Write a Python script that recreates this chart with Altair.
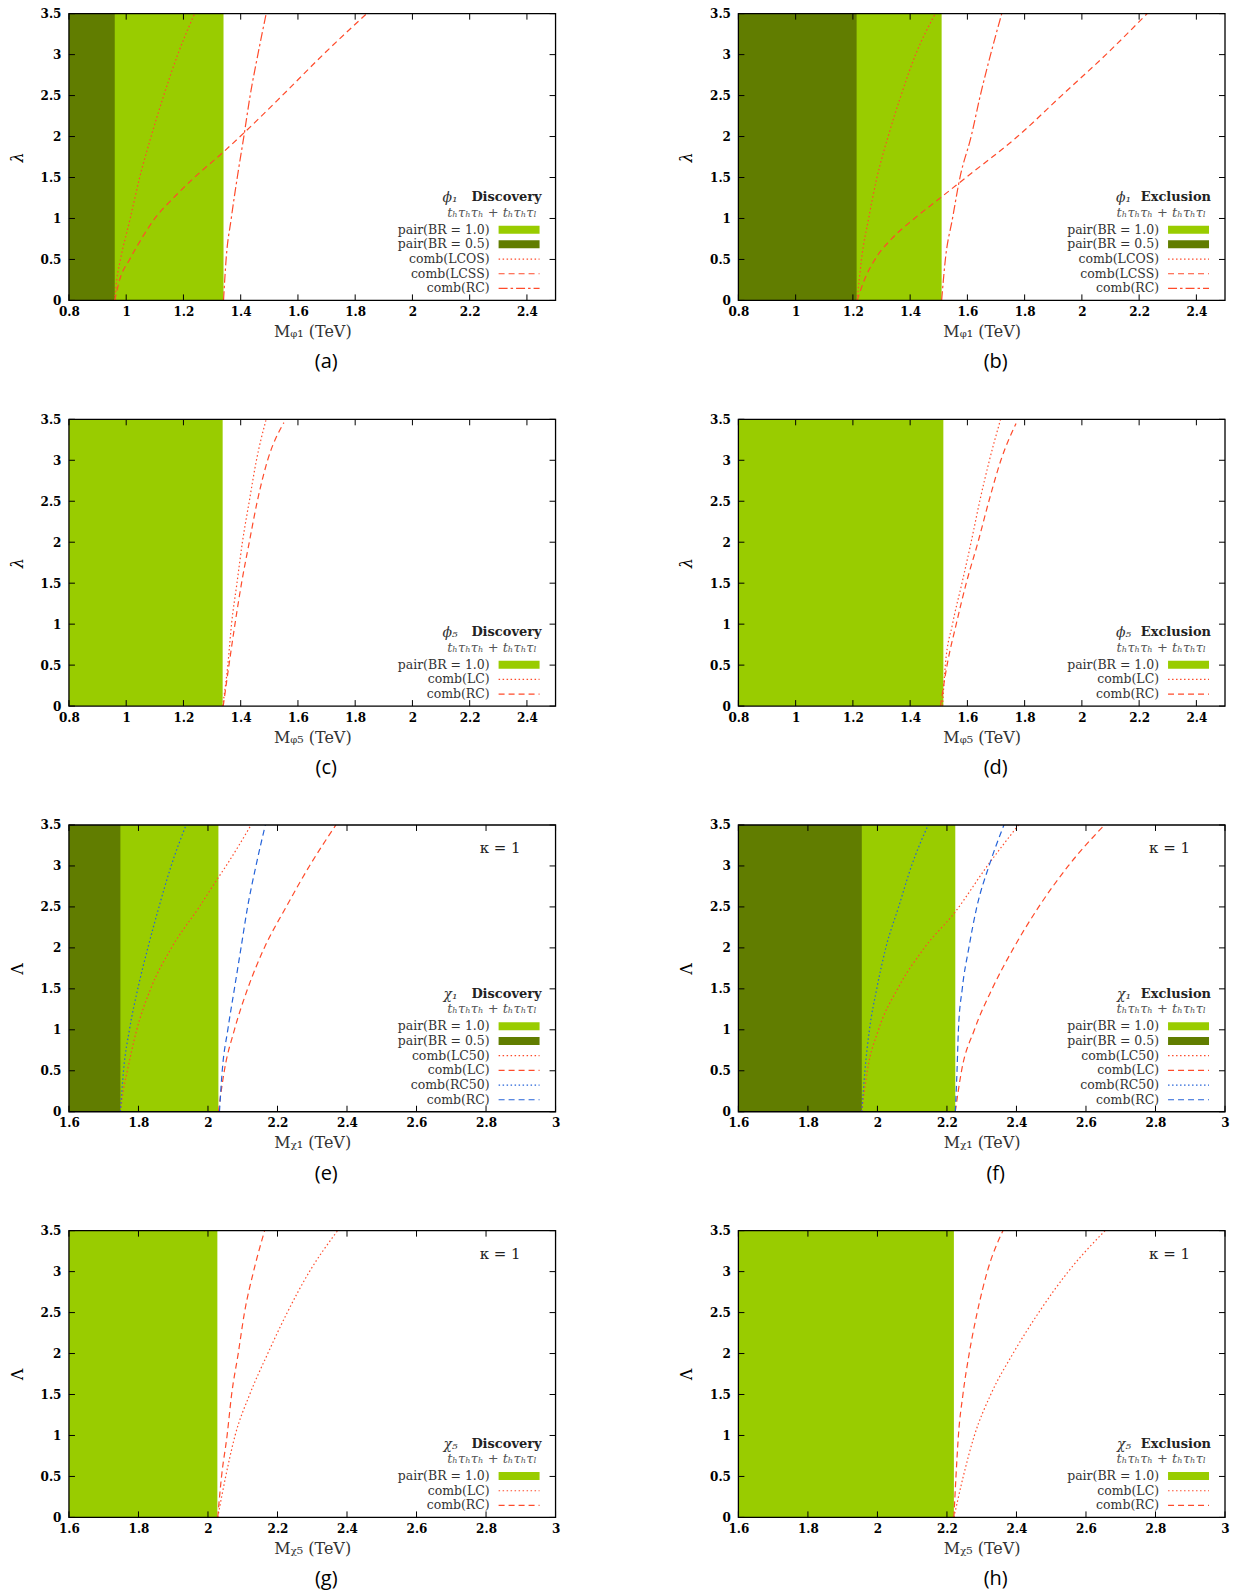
import altair as alt
import pandas as pd

# ------------------------------------------------------------------ data
LAM = [0, 0.5, 1.0, 1.5, 2.0, 2.5, 3.0, 3.5]
LAM_Q = [0, 0.25, 0.5, 1.0, 1.5, 2.0, 2.5, 3.0, 3.5]

PHI_X_DOMAIN = [0.8, 2.5]
PHI_X_TICKS = [0.8, 1.0, 1.2, 1.4, 1.6, 1.8, 2.0, 2.2, 2.4]
CHI_X_DOMAIN = [1.6, 3.0]
CHI_X_TICKS = [1.6, 1.8, 2.0, 2.2, 2.4, 2.6, 2.8, 3.0]
Y_DOMAIN = [0, 3.5]
Y_TICKS = [0, 0.5, 1, 1.5, 2, 2.5, 3, 3.5]

# (a) phi1 discovery
A_PAIR10, A_PAIR05 = 1.34, 0.96
A_LCOS_M = [0.960, 0.967, 0.980, 1.014, 1.047, 1.087, 1.131, 1.180, 1.239]
A_LCSS_L = [0, 0.25, 0.5, 0.75, 1.0, 1.25, 1.5, 1.8, 2.0, 2.5, 3.0, 3.5]
A_LCSS_M = [0.960, 0.977, 1.012, 1.053, 1.100, 1.165, 1.238, 1.336, 1.398, 1.545, 1.688, 1.840]
A_RC_M = [1.340, 1.349, 1.367, 1.388, 1.411, 1.433, 1.460, 1.489]

# (b) phi1 exclusion
B_PAIR10, B_PAIR05 = 1.51, 1.213
B_LCOS_M = [1.215, 1.222, 1.230, 1.255, 1.284, 1.323, 1.368, 1.419, 1.488]
B_LCSS_L = [0, 0.25, 0.5, 0.75, 1.0, 1.25, 1.5, 2.0, 2.5, 3.0, 3.5]
B_LCSS_M = [1.215, 1.240, 1.277, 1.335, 1.415, 1.505, 1.595, 1.775, 1.929, 2.084, 2.228]
B_RC_M = [1.510, 1.523, 1.548, 1.574, 1.613, 1.645, 1.681, 1.720]

# (c) phi5 discovery
C_PAIR10 = 1.337
C_LC_M = [1.337, 1.355, 1.368, 1.387, 1.406, 1.430, 1.455, 1.489]
C_RC_L = [0, 0.5, 1.0, 1.5, 2.0, 2.5, 3.0, 3.46]
C_RC_M = [1.339, 1.359, 1.380, 1.403, 1.430, 1.458, 1.494, 1.551]

# (d) phi5 exclusion
D_PAIR10 = 1.516
D_LC_M = [1.513, 1.523, 1.548, 1.581, 1.613, 1.643, 1.677, 1.716]
D_RC_L = [0, 0.5, 1.0, 1.5, 2.0, 2.5, 3.0, 3.45]
D_RC_M = [1.506, 1.529, 1.561, 1.596, 1.637, 1.675, 1.717, 1.770]

# (e) chi1 discovery
E_PAIR10, E_PAIR05 = 2.030, 1.748
E_LC50_L = [0, 0.25, 0.5, 1.0, 1.5, 2.0, 2.5, 2.86, 3.0, 3.5]
E_LC50_M = [1.748, 1.756, 1.768, 1.795, 1.835, 1.895, 1.975, 2.030, 2.052, 2.124]
E_LC_M = [2.030, 2.047, 2.076, 2.114, 2.162, 2.225, 2.292, 2.368]
E_RC50_M = [1.748, 1.757, 1.774, 1.798, 1.827, 1.859, 1.894, 1.937]
E_RC_M = [2.033, 2.041, 2.057, 2.076, 2.095, 2.114, 2.138, 2.165]

# (f) chi1 exclusion
F_PAIR10, F_PAIR05 = 2.224, 1.955
F_LC50_L = [0, 0.5, 1.0, 1.5, 2.0, 2.44, 3.0, 3.5]
F_LC50_M = [1.955, 1.971, 2.003, 2.058, 2.135, 2.224, 2.316, 2.406]
F_LC_M = [2.224, 2.242, 2.279, 2.330, 2.392, 2.464, 2.549, 2.653]
F_RC50_M = [1.955, 1.964, 1.977, 1.998, 2.024, 2.061, 2.098, 2.146]
F_RC_M = [2.224, 2.229, 2.233, 2.244, 2.263, 2.286, 2.321, 2.364]

# (g) chi5 discovery
G_PAIR10 = 2.027
G_LC_M = [2.028, 2.051, 2.078, 2.120, 2.172, 2.228, 2.292, 2.373]
G_RC_M = [2.028, 2.039, 2.055, 2.068, 2.087, 2.105, 2.131, 2.163]

# (h) chi5 exclusion
H_PAIR10 = 2.220
H_LC_M = [2.220, 2.247, 2.279, 2.326, 2.390, 2.464, 2.549, 2.655]
H_RC_M = [2.220, 2.226, 2.233, 2.246, 2.264, 2.287, 2.316, 2.361]

SUBTITLE = "tₕτₕτₕ + tₕτₕτₗ"

# ------------------------------------------------------------------ style
W, H = 487, 287
TL = 6
SERIF = "DejaVu Serif"
RED = "#ff4b2b"
BLUE = "#2563d9"
LIGHT = "#99cc00"
DARK = "#617d00"
DOT = [1.5, 2.5]
DASH = [6, 4]
DASHDOT = [9, 3, 2.5, 3]
WORD_W = {"Discovery": 76, "Exclusion": 72}


def build_panel(p):
    xs = alt.Scale(domain=p["xdomain"], nice=False, zero=False)
    ys = alt.Scale(domain=Y_DOMAIN, nice=False, zero=False)
    common = dict(grid=False, domain=False, ticks=False, tickSize=0, format="~g",
                  labelFont=SERIF, labelFontSize=12, labelFontWeight="bold",
                  labelColor="black", labelOverlap=False, titleFont=SERIF,
                  titleFontWeight="normal")
    xax = alt.Axis(values=p["xticks"], title=p["xtitle"], labelFlush=False,
                   labelPadding=6, titleFontSize=16, titleColor="#333",
                   titlePadding=6, **common)
    yax = alt.Axis(values=Y_TICKS, title=p["ytitle"], labelPadding=8,
                   titleFontSize=16, titleColor="black", titlePadding=15,
                   titleFontStyle=p["ystyle"], **common)
    X = lambda f: alt.X(f, scale=xs, axis=xax)
    Y = lambda f: alt.Y(f, scale=ys, axis=yax)

    layers = []
    one = pd.DataFrame({"z": [0]})
    # excluded regions from pair production
    for bound, col in p["rects"]:
        df = pd.DataFrame({"lo": [p["xdomain"][0]], "hi": [bound]})
        layers.append(alt.Chart(df).mark_rect(color=col).encode(
            x=X("lo:Q"), x2="hi:Q", y=alt.value(0), y2=alt.value(H)))
    # combined-production curves
    for mv, lv, col, dash in p["lines"]:
        df = pd.DataFrame({"m": mv, "l": lv})
        layers.append(alt.Chart(df).mark_line(
            color=col, strokeDash=dash, strokeWidth=1.2, clip=True,
            interpolate="monotone").encode(
            x=X("m:Q"), y=Y("l:Q"), order="l:Q"))
    # inward mirrored ticks
    ydf = pd.DataFrame({"t": Y_TICKS})
    xdf = pd.DataFrame({"t": p["xticks"]})
    tick = dict(color="black", strokeWidth=1)
    layers.append(alt.Chart(ydf).mark_rule(**tick).encode(
        y=Y("t:Q"), x=alt.value(0), x2=alt.value(TL)))
    layers.append(alt.Chart(ydf).mark_rule(**tick).encode(
        y=Y("t:Q"), x=alt.value(W - TL), x2=alt.value(W)))
    layers.append(alt.Chart(xdf).mark_rule(**tick).encode(
        x=X("t:Q"), y=alt.value(H - TL), y2=alt.value(H)))
    layers.append(alt.Chart(xdf).mark_rule(**tick).encode(
        x=X("t:Q"), y=alt.value(0), y2=alt.value(TL)))
    # frame
    layers.append(alt.Chart(one).mark_rect(
        fillOpacity=0, stroke="black", strokeWidth=1.3).encode(
        x=alt.value(0), x2=alt.value(W), y=alt.value(0), y2=alt.value(H)))

    # legend
    n = len(p["entries"])
    step = 14.7
    first = 275 - (n - 1) * step
    sub_y = first - 17
    title_y = sub_y - 15.5
    word = p["word"]
    layers.append(alt.Chart(pd.DataFrame({"s": [word]})).mark_text(
        align="right", baseline="middle", font=SERIF, fontSize=13,
        fontWeight="bold", color="#222").encode(
        x=alt.value(473), y=alt.value(title_y), text="s:N"))
    layers.append(alt.Chart(pd.DataFrame({"s": [p["sym"]]})).mark_text(
        align="right", baseline="middle", font=SERIF, fontSize=14,
        fontStyle="italic", color="#333").encode(
        x=alt.value(473 - WORD_W[word] - 8), y=alt.value(title_y + 1), text="s:N"))
    layers.append(alt.Chart(pd.DataFrame({"s": [SUBTITLE]})).mark_text(
        align="right", baseline="middle", font=SERIF, fontSize=13,
        fontStyle="italic", color="#555").encode(
        x=alt.value(468), y=alt.value(sub_y), text="s:N"))
    for i, (lab, kind, col, dash) in enumerate(p["entries"]):
        yy = first + i * step
        layers.append(alt.Chart(pd.DataFrame({"s": [lab]})).mark_text(
            align="right", baseline="middle", font=SERIF, fontSize=12.5,
            color="#333").encode(x=alt.value(421), y=alt.value(yy), text="s:N"))
        if kind == "rect":
            layers.append(alt.Chart(one).mark_rect(color=col).encode(
                x=alt.value(430), x2=alt.value(471),
                y=alt.value(yy - 4), y2=alt.value(yy + 4)))
        else:
            layers.append(alt.Chart(one).mark_rule(
                color=col, strokeDash=dash, strokeWidth=1.2).encode(
                x=alt.value(430), x2=alt.value(471), y=alt.value(yy)))
    if p.get("kappa"):
        layers.append(alt.Chart(pd.DataFrame({"s": [p["kappa"]]})).mark_text(
            align="right", baseline="middle", font=SERIF, fontSize=15,
            color="#222").encode(x=alt.value(452), y=alt.value(23), text="s:N"))

    return alt.layer(*layers).properties(
        width=W, height=H,
        title=alt.TitleParams(p["caption"], orient="bottom", frame="group",
                              anchor="middle", dx=14, offset=13,
                              font="Open Sans", fontSize=20,
                              fontWeight="normal", color="black"))


PAIR10 = ("pair(BR = 1.0)", "rect", LIGHT, None)
PAIR05 = ("pair(BR = 0.5)", "rect", DARK, None)

panels = [
    dict(caption="(a)", xdomain=PHI_X_DOMAIN, xticks=PHI_X_TICKS,
         xtitle="Mᵩ₁ (TeV)", ytitle="λ", ystyle="italic",
         rects=[(A_PAIR10, LIGHT), (A_PAIR05, DARK)],
         lines=[(A_LCOS_M, LAM_Q, RED, DOT), (A_LCSS_M, A_LCSS_L, RED, DASH),
                (A_RC_M, LAM, RED, DASHDOT)],
         sym="ϕ₁", word="Discovery",
         entries=[PAIR10, PAIR05, ("comb(LCOS)", "line", RED, DOT),
                  ("comb(LCSS)", "line", RED, DASH), ("comb(RC)", "line", RED, DASHDOT)]),
    dict(caption="(b)", xdomain=PHI_X_DOMAIN, xticks=PHI_X_TICKS,
         xtitle="Mᵩ₁ (TeV)", ytitle="λ", ystyle="italic",
         rects=[(B_PAIR10, LIGHT), (B_PAIR05, DARK)],
         lines=[(B_LCOS_M, LAM_Q, RED, DOT), (B_LCSS_M, B_LCSS_L, RED, DASH),
                (B_RC_M, LAM, RED, DASHDOT)],
         sym="ϕ₁", word="Exclusion",
         entries=[PAIR10, PAIR05, ("comb(LCOS)", "line", RED, DOT),
                  ("comb(LCSS)", "line", RED, DASH), ("comb(RC)", "line", RED, DASHDOT)]),
    dict(caption="(c)", xdomain=PHI_X_DOMAIN, xticks=PHI_X_TICKS,
         xtitle="Mᵩ₅ (TeV)", ytitle="λ", ystyle="italic",
         rects=[(C_PAIR10, LIGHT)],
         lines=[(C_LC_M, LAM, RED, DOT), (C_RC_M, C_RC_L, RED, DASH)],
         sym="ϕ₅", word="Discovery",
         entries=[PAIR10, ("comb(LC)", "line", RED, DOT), ("comb(RC)", "line", RED, DASH)]),
    dict(caption="(d)", xdomain=PHI_X_DOMAIN, xticks=PHI_X_TICKS,
         xtitle="Mᵩ₅ (TeV)", ytitle="λ", ystyle="italic",
         rects=[(D_PAIR10, LIGHT)],
         lines=[(D_LC_M, LAM, RED, DOT), (D_RC_M, D_RC_L, RED, DASH)],
         sym="ϕ₅", word="Exclusion",
         entries=[PAIR10, ("comb(LC)", "line", RED, DOT), ("comb(RC)", "line", RED, DASH)]),
    dict(caption="(e)", xdomain=CHI_X_DOMAIN, xticks=CHI_X_TICKS,
         xtitle="Mᵪ₁ (TeV)", ytitle="Λ", ystyle="normal", kappa="κ = 1",
         rects=[(E_PAIR10, LIGHT), (E_PAIR05, DARK)],
         lines=[(E_LC50_M, E_LC50_L, RED, DOT), (E_LC_M, LAM, RED, DASH),
                (E_RC50_M, LAM, BLUE, DOT), (E_RC_M, LAM, BLUE, DASH)],
         sym="χ₁", word="Discovery",
         entries=[PAIR10, PAIR05, ("comb(LC50)", "line", RED, DOT),
                  ("comb(LC)", "line", RED, DASH), ("comb(RC50)", "line", BLUE, DOT),
                  ("comb(RC)", "line", BLUE, DASH)]),
    dict(caption="(f)", xdomain=CHI_X_DOMAIN, xticks=CHI_X_TICKS,
         xtitle="Mᵪ₁ (TeV)", ytitle="Λ", ystyle="normal", kappa="κ = 1",
         rects=[(F_PAIR10, LIGHT), (F_PAIR05, DARK)],
         lines=[(F_LC50_M, F_LC50_L, RED, DOT), (F_LC_M, LAM, RED, DASH),
                (F_RC50_M, LAM, BLUE, DOT), (F_RC_M, LAM, BLUE, DASH)],
         sym="χ₁", word="Exclusion",
         entries=[PAIR10, PAIR05, ("comb(LC50)", "line", RED, DOT),
                  ("comb(LC)", "line", RED, DASH), ("comb(RC50)", "line", BLUE, DOT),
                  ("comb(RC)", "line", BLUE, DASH)]),
    dict(caption="(g)", xdomain=CHI_X_DOMAIN, xticks=CHI_X_TICKS,
         xtitle="Mᵪ₅ (TeV)", ytitle="Λ", ystyle="normal", kappa="κ = 1",
         rects=[(G_PAIR10, LIGHT)],
         lines=[(G_LC_M, LAM, RED, DOT), (G_RC_M, LAM, RED, DASH)],
         sym="χ₅", word="Discovery",
         entries=[PAIR10, ("comb(LC)", "line", RED, DOT), ("comb(RC)", "line", RED, DASH)]),
    dict(caption="(h)", xdomain=CHI_X_DOMAIN, xticks=CHI_X_TICKS,
         xtitle="Mᵪ₅ (TeV)", ytitle="Λ", ystyle="normal", kappa="κ = 1",
         rects=[(H_PAIR10, LIGHT)],
         lines=[(H_LC_M, LAM, RED, DOT), (H_RC_M, LAM, RED, DASH)],
         sym="χ₅", word="Exclusion",
         entries=[PAIR10, ("comb(LC)", "line", RED, DOT), ("comb(RC)", "line", RED, DASH)]),
]

chart = alt.concat(*[build_panel(p) for p in panels], columns=2,
                   spacing={"row": 39, "column": 117}).properties(
    padding={"left": 0, "top": -2, "right": 0, "bottom": 0},
    background="white",
).configure_view(stroke="transparent")

chart.save("out.html", embed_options={"renderer": "svg", "actions": False})
